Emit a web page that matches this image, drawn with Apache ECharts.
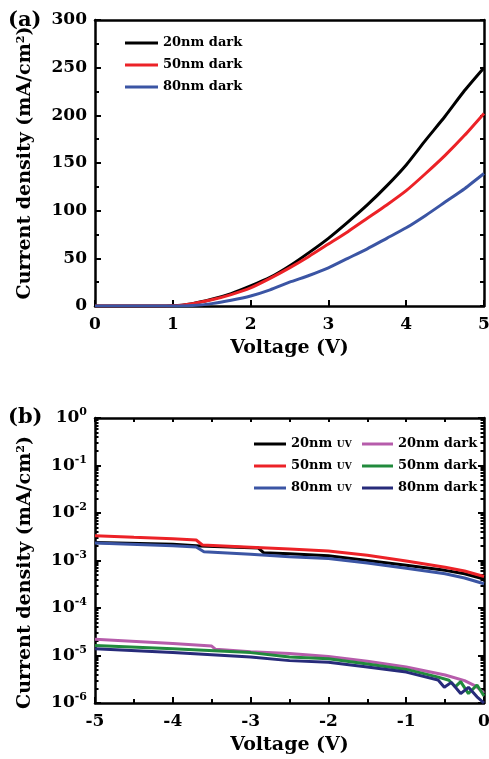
<!DOCTYPE html>
<html>
<head>
<meta charset="utf-8">
<script src="https://cdn.jsdelivr.net/npm/echarts@6/dist/echarts.min.js"></script>
<style>
  html, body { margin: 0; padding: 0; background: #fff; }
  #chart { width: 489px; height: 759px; }
</style>
</head>
<body>
<div id="chart"></div>
<script>
// panel (a): linear, dark current
const aVolt = [0, 0.25, 0.5, 0.75, 1, 1.25, 1.5, 1.75, 2, 2.25, 2.5, 2.75, 3, 3.25, 3.5, 3.75, 4, 4.25, 4.5, 4.75, 5];
const a20dark = [0, 0, 0, 0, 0.2, 2.5, 7, 13, 21, 30, 42, 56, 71, 88, 106, 126, 148, 174, 199, 226, 250];
const a50dark = [0, 0, 0, 0, 0.2, 2.5, 6.5, 12, 19, 29, 40, 52, 65, 78, 92, 106, 121, 139, 158, 179, 202];
const a80dark = [0, 0, 0, 0, 0, 0.5, 2.5, 6, 10.5, 17, 25, 32, 40, 50, 60, 71, 82, 95, 109, 123, 139];

// panel (b): log, UV and dark
const bV20uv = [-5, -4, -3.65, -2.9, -2.83, -2.5, -2, -1.5, -1, -0.5, -0.25, 0];
const b20uv = [2.40e-3, 2.19e-3, 2.02e-3, 1.83e-3, 1.45e-3, 1.38e-3, 1.26e-3, 1.0e-3, 7.9e-4, 6.2e-4, 5.25e-4, 4.07e-4];
const bV50uv = [-5, -4.5, -4, -3.7, -3.62, -3, -2.5, -2, -1.5, -1, -0.5, -0.25, 0];
const b50uv = [3.33e-3, 3.09e-3, 2.88e-3, 2.70e-3, 2.12e-3, 1.91e-3, 1.75e-3, 1.58e-3, 1.29e-3, 9.8e-4, 7.2e-4, 6.0e-4, 4.6e-4];
const bV80uv = [-5, -4, -3.7, -3.6, -3, -2.5, -2, -1.5, -1, -0.5, -0.25, 0];
const b80uv = [2.34e-3, 2.04e-3, 1.92e-3, 1.53e-3, 1.35e-3, 1.20e-3, 1.10e-3, 8.9e-4, 6.9e-4, 5.25e-4, 4.27e-4, 3.24e-4];

const bV20dk = [-5, -4, -3.5, -3.45, -3, -2.5, -2, -1.5, -1, -0.5, -0.25, -0.1, 0];
const b20dk = [2.19e-5, 1.78e-5, 1.58e-5, 1.35e-5, 1.20e-5, 1.10e-5, 9.55e-6, 7.59e-6, 5.75e-6, 3.89e-6, 2.95e-6, 2.24e-6, 1.62e-6];
const bV50dk = [-5, -4, -3, -2.5, -2, -1.5, -1, -0.6, -0.45, -0.37, -0.3, -0.2, -0.09, 0];
const b50dk = [1.62e-5, 1.38e-5, 1.15e-5, 9.3e-6, 8.5e-6, 6.6e-6, 5.1e-6, 3.55e-6, 3.02e-6, 2.19e-6, 2.82e-6, 1.58e-6, 2.40e-6, 1.41e-6];
const bV80dk = [-5, -4, -3, -2.5, -2, -1.5, -1, -0.59, -0.51, -0.42, -0.3, -0.2, -0.09, 0];
const b80dk = [1.38e-5, 1.15e-5, 9.3e-6, 7.8e-6, 7.2e-6, 5.75e-6, 4.47e-6, 3.05e-6, 2.14e-6, 2.72e-6, 1.58e-6, 2.14e-6, 1.35e-6, 1.0e-6];

const bDecades = [1e-6, 1e-5, 1e-4, 1e-3, 1e-2, 1e-1, 1];

const FONT = 'DejaVu Serif';
const zip = (xs, ys) => xs.map((x, i) => [x, ys[i]]);

// minor log ticks 2..9 inside each decade, as exponents for a linear overlay axis
const bMinorExp = [];
bDecades.slice(0, -1).forEach((d) => {
  const e = Math.log10(d);
  for (let k = 2; k <= 9; k++) bMinorExp.push(e + Math.log10(k));
});

const chart = echarts.init(document.getElementById('chart'));

const line = { onZero: false, lineStyle: { color: '#000', width: 2.5 } };
const tick = (len, extra) => Object.assign({ show: true, inside: true, length: len, lineStyle: { color: '#000', width: 2 } }, extra || {});
const label = { color: '#000', fontFamily: FONT, fontWeight: 'bold', fontSize: 17 };
const nameStyle = (pad) => ({
  color: '#000', fontFamily: FONT, fontWeight: 'bold', fontSize: 19, padding: pad || 0,
  rich: { s: { fontFamily: FONT, fontWeight: 'bold', fontSize: 11, verticalAlign: 'top', color: '#000' } },
});
const legendText = {
  color: '#000', fontFamily: FONT, fontWeight: 'bold', fontSize: 13, lineHeight: 16,
  rich: {
    t: { fontFamily: FONT, fontWeight: 'bold', fontSize: 13, color: '#000' },
    s: { fontFamily: FONT, fontWeight: 'bold', fontSize: 9, color: '#000', padding: [2, 0, 0, 0] },
  },
};
const overlayY = (pos) => ({
  gridIndex: 1, type: 'value', min: -6, max: 0, position: pos,
  axisLine: { show: false, onZero: false }, axisTick: tick(3.5, { customValues: bMinorExp }),
  axisLabel: { show: false }, splitLine: { show: false },
});

const mkSeries = (name, xi, yi, data, color, smooth) => ({
  name, type: 'line', xAxisIndex: xi, yAxisIndex: yi, data,
  showSymbol: false, smooth: smooth || false, animation: false,
  lineStyle: { width: 3, color }, itemStyle: { color },
});

chart.setOption({
  animation: false,
  title: [
    { text: '(a)', left: 3, top: 5, textStyle: { fontFamily: FONT, fontWeight: 'bold', fontSize: 21, color: '#000' } },
    { text: '(b)', left: 3, top: 402, textStyle: { fontFamily: FONT, fontWeight: 'bold', fontSize: 21, color: '#000' } },
  ],
  legend: [
    {
      data: ['20nm dark', '50nm dark', '80nm dark'],
      orient: 'vertical', left: 120, top: 30, icon: 'rect', itemWidth: 33, itemHeight: 3, itemGap: 6,
      textStyle: legendText,
    },
    {
      data: ['b:20nm UV', 'b:50nm UV', 'b:80nm UV'],
      formatter: (n) => '{t|' + n.slice(2, 6) + '} {s|UV}',
      orient: 'vertical', left: 249, top: 431, icon: 'rect', itemWidth: 32, itemHeight: 3, itemGap: 6,
      textStyle: legendText,
    },
    {
      data: ['b:20nm dark', 'b:50nm dark', 'b:80nm dark'],
      formatter: (n) => n.slice(2),
      orient: 'vertical', left: 357, top: 431, icon: 'rect', itemWidth: 31, itemHeight: 3, itemGap: 6,
      textStyle: legendText,
    },
  ],
  grid: [
    { left: 95, top: 20, width: 389, height: 286, outerBoundsMode: 'none' },
    { left: 95, top: 418, width: 389, height: 285, outerBoundsMode: 'none' },
  ],
  xAxis: [
    {
      gridIndex: 0, type: 'value', min: 0, max: 5, interval: 1,
      name: 'Voltage (V)', nameLocation: 'middle', nameGap: 33, nameTextStyle: nameStyle(),
      axisLine: line, axisTick: tick(6), axisLabel: Object.assign({ margin: 10 }, label),
      splitLine: { show: false },
    },
    {
      gridIndex: 0, type: 'value', min: 0, max: 5, position: 'top',
      axisLine: line, axisTick: { show: false }, axisLabel: { show: false }, splitLine: { show: false },
    },
    {
      gridIndex: 1, type: 'value', min: -5, max: 0, interval: 1,
      name: 'Voltage (V)', nameLocation: 'middle', nameGap: 33, nameTextStyle: nameStyle(),
      axisLine: line, axisTick: tick(6),
      minorTick: { show: true, splitNumber: 2, length: 4, lineStyle: { color: '#000', width: 2 } },
      axisLabel: Object.assign({ margin: 10 }, label), splitLine: { show: false }, minorSplitLine: { show: false },
    },
    {
      gridIndex: 1, type: 'value', min: -5, max: 0, interval: 0.5, position: 'top',
      axisLine: line, axisTick: tick(4), axisLabel: { show: false }, splitLine: { show: false },
    },
  ],
  yAxis: [
    {
      gridIndex: 0, type: 'value', min: 0, max: 300, interval: 50,
      name: 'Current density (mA/cm{s|2})', nameLocation: 'middle', nameGap: 60, nameTextStyle: nameStyle(),
      axisLine: line, axisTick: tick(6),
      minorTick: { show: true, splitNumber: 2, length: 4, lineStyle: { color: '#000', width: 2 } },
      axisLabel: Object.assign({ margin: 8 }, label), splitLine: { show: false }, minorSplitLine: { show: false },
    },
    {
      gridIndex: 0, type: 'value', min: 0, max: 300, interval: 25, position: 'right',
      axisLine: line, axisTick: tick(4), axisLabel: { show: false }, splitLine: { show: false },
    },
    {
      gridIndex: 1, type: 'log', logBase: 10, min: 1e-6, max: 1, position: 'left',
      name: 'Current density (mA/cm{s|2})', nameLocation: 'middle', nameGap: 60, nameTextStyle: nameStyle([0, 24, 0, 0]),
      axisLine: line, axisTick: tick(6, { customValues: bDecades }),
      axisLabel: {
        margin: 8, customValues: bDecades,
        formatter: (v) => '{b|10}{s|' + Math.round(Math.log10(v)) + '}',
        rich: {
          b: { fontFamily: FONT, fontWeight: 'bold', fontSize: 17, color: '#000', lineHeight: 22 },
          s: { fontFamily: FONT, fontWeight: 'bold', fontSize: 11, color: '#000', verticalAlign: 'top', lineHeight: 14 },
        },
      },
      splitLine: { show: false },
    },
    overlayY('left'),
    {
      gridIndex: 1, type: 'log', logBase: 10, min: 1e-6, max: 1, position: 'right',
      axisLine: line, axisTick: tick(6, { customValues: bDecades }), axisLabel: { show: false }, splitLine: { show: false },
    },
    overlayY('right'),
  ],
  series: [
    mkSeries('20nm dark', 0, 0, zip(aVolt, a20dark), '#000000', 0.2),
    mkSeries('50nm dark', 0, 0, zip(aVolt, a50dark), '#ec2227', 0.2),
    mkSeries('80nm dark', 0, 0, zip(aVolt, a80dark), '#3b55a4', 0.2),
    mkSeries('b:20nm UV', 2, 2, zip(bV20uv, b20uv), '#000000'),
    mkSeries('b:50nm UV', 2, 2, zip(bV50uv, b50uv), '#ec2227'),
    mkSeries('b:80nm UV', 2, 2, zip(bV80uv, b80uv), '#3b55a4'),
    mkSeries('b:20nm dark', 2, 2, zip(bV20dk, b20dk), '#b65cab'),
    mkSeries('b:50nm dark', 2, 2, zip(bV50dk, b50dk), '#218a3c'),
    mkSeries('b:80nm dark', 2, 2, zip(bV80dk, b80dk), '#272b7a'),
  ],
});
</script>
</body>
</html>
